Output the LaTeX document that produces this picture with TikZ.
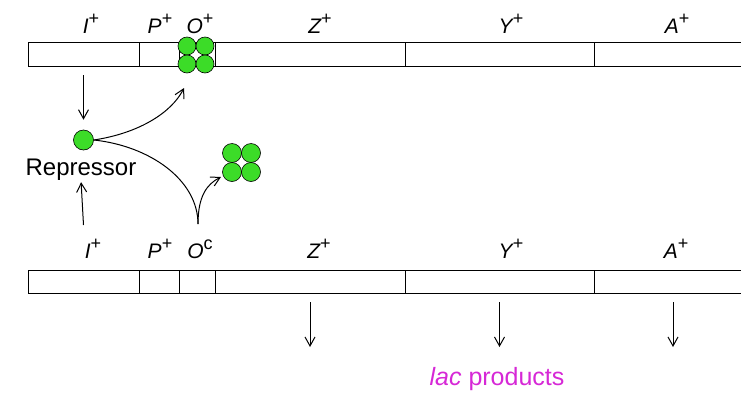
\documentclass[tikz,border=0pt]{standalone}
\usepackage{fontspec}
\setmainfont{Liberation Sans}
\usetikzlibrary{positioning, arrows.meta}
\definecolor{vertrep}{RGB}{60,220,40}
\definecolor{magentalac}{RGB}{214,40,214}
\newcommand{\exposant}[1]{\raisebox{0.42em}{\upshape\fontsize{18}{20}\selectfont #1}}

\begin{document}
\begin{tikzpicture}[x=1pt, y=-1pt,
    segment/.style={draw, line width=1pt, inner sep=0pt, outer sep=0pt, anchor=west},
    genelbl/.style={font=\fontsize{21}{25}\selectfont\itshape, anchor=base, inner sep=0pt},
    sousunite/.style={circle, draw=black, line width=0.6pt, fill=vertrep, inner sep=0pt},
    fleche/.style={line width=1pt, -{Straight Barb[length=9pt, width=10pt]}}]
    \useasboundingbox (0,0) rectangle (741,397);

    % Operon du haut (O+)
    \node[segment, minimum width=111pt, minimum height=24pt] (tI) at (28,54) {};
    \node[segment, minimum width=40pt, minimum height=24pt, right=0pt of tI] (tP) {};
    \node[segment, minimum width=36pt, minimum height=24pt, right=0pt of tP] (tO) {};
    \node[segment, minimum width=190pt, minimum height=24pt, right=0pt of tO] (tZ) {};
    \node[segment, minimum width=189pt, minimum height=24pt, right=0pt of tZ] (tY) {};
    \node[segment, minimum width=158pt, minimum height=24pt, right=0pt of tY] (tA) {};

    \node[genelbl] (ltI) at (91,33) {I\exposant{+}};
    \node[genelbl] (ltP) at (160,33) {P\exposant{+}};
    \node[genelbl] (ltO) at (200,33) {O\exposant{+}};
    \node[genelbl] (ltZ) at (320,33) {Z\exposant{+}};
    \node[genelbl] (ltY) at (511,33) {Y\exposant{+}};
    \node[genelbl] (ltA) at (677,33) {A\exposant{+}};

    % Operon du bas (Oc)
    \node[segment, minimum width=111pt, minimum height=23pt] (bI) at (28,281.5) {};
    \node[segment, minimum width=40pt, minimum height=23pt, right=0pt of bI] (bP) {};
    \node[segment, minimum width=36pt, minimum height=23pt, right=0pt of bP] (bO) {};
    \node[segment, minimum width=190pt, minimum height=23pt, right=0pt of bO] (bZ) {};
    \node[segment, minimum width=189pt, minimum height=23pt, right=0pt of bZ] (bY) {};
    \node[segment, minimum width=158pt, minimum height=23pt, right=0pt of bY] (bA) {};

    \node[genelbl] (lbI) at (93,258) {I\exposant{+}};
    \node[genelbl] (lbP) at (160,258) {P\exposant{+}};
    \node[genelbl] (lbO) at (200,258) {O\exposant{c}};
    \node[genelbl] (lbZ) at (319,258) {Z\exposant{+}};
    \node[genelbl] (lbY) at (511,258) {Y\exposant{+}};
    \node[genelbl] (lbA) at (676,258) {A\exposant{+}};

    % Represseur lie a l'operateur
    \node[sousunite, minimum size=18pt] (t1) at (187,46) {};
    \node[sousunite, minimum size=18pt] (t2) at (205,46) {};
    \node[sousunite, minimum size=18pt] (t3) at (187,64) {};
    \node[sousunite, minimum size=18pt] (t4) at (205,64) {};

    % Represseur libre
    \node[sousunite, minimum size=19pt] (l1) at (232,153) {};
    \node[sousunite, minimum size=19pt] (l2) at (251,153) {};
    \node[sousunite, minimum size=19pt] (l3) at (232,172) {};
    \node[sousunite, minimum size=19pt] (l4) at (251,172) {};

    % Monomere et texte
    \node[sousunite, minimum size=20pt] (rep) at (83.5,140) {};
    \node[font=\fontsize{24}{28}\selectfont, anchor=base, inner sep=0pt] (replbl) at (81,175) {Repressor};

    \coordinate (iBas) at (83.5,225);
    \coordinate (pointeA) at (184,88);
    \coordinate (creux) at (198,224);
    \coordinate (pointeB) at (221,177);

    % Fleches
    \draw[fleche, shorten >=10pt] ([yshift=-9pt]tI.south) -- (rep.north);
    \draw[fleche, shorten >=2pt] (iBas) -- (replbl.south);
    \draw[fleche] (rep.east) .. controls (140,133) and (172,112) .. (pointeA);
    \draw[line width=1pt] (rep.east) .. controls (150,146) and (198,180) .. (creux);
    \draw[fleche] (creux) .. controls (198,196) and (207,184) .. (pointeB);

    \draw[fleche] ([yshift=-9pt]bZ.south) -- ([yshift=-54pt]bZ.south);
    \draw[fleche] ([yshift=-9pt]bY.south) -- ([yshift=-54pt]bY.south);
    \draw[fleche] ([yshift=-9pt]bA.south) -- ([yshift=-54pt]bA.south);

    \node[font=\fontsize{25}{30}\selectfont, text=magentalac, anchor=base, inner sep=0pt] (lac) at (497,385) {\textit{lac} products};
\end{tikzpicture}
\end{document}
